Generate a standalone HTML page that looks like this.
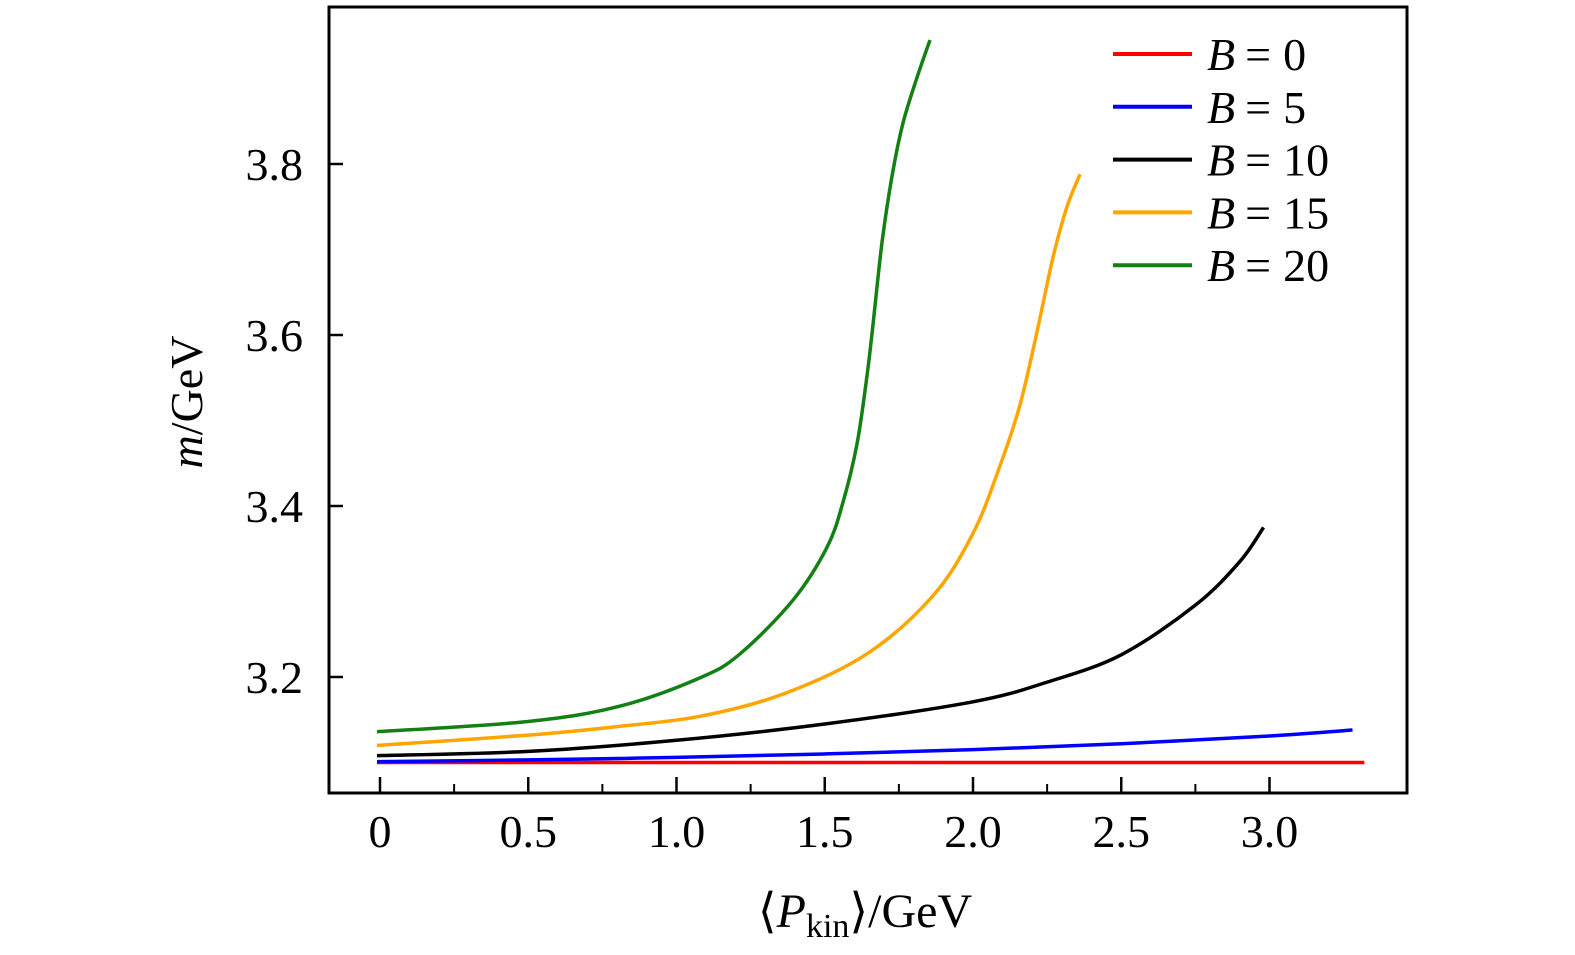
<!DOCTYPE html>
<html><head><meta charset="utf-8"><style>
body{margin:0;background:#fff}
svg{display:block}
text{font-family:"Liberation Serif",serif;fill:#000}
</style></head><body>
<svg id="chart" width="1575" height="955" xmlns="http://www.w3.org/2000/svg">
<g id="plot"></g>
</svg>
<script>
const xTicks=[0,0.5,1.0,1.5,2.0,2.5,3.0];
const xTickLabels=["0","0.5","1.0","1.5","2.0","2.5","3.0"];
const yTicks=[3.2,3.4,3.6,3.8];
const yTickLabels=["3.2","3.4","3.6","3.8"];
const seriesNames=["B = 0","B = 5","B = 10","B = 15","B = 20"];
const seriesColors=["#ff0000","#0000ff","#000000","#ffa500","#138013"];
const redX=[-0.01,1.0,2.0,3.32];
const redY=[3.1,3.1,3.1,3.1];
const blueX=[-0.01,0.5,1.0,1.5,2.0,2.5,3.0,3.28];
const blueY=[3.101,3.103,3.106,3.110,3.115,3.122,3.131,3.138];
const blackX=[-0.01,0.5,1.0,1.5,2.0,2.25,2.5,2.75,2.9,2.98];
const blackY=[3.108,3.113,3.126,3.145,3.171,3.194,3.226,3.284,3.335,3.375];
const orangeX=[-0.01,0.5,0.8,1.079,1.359,1.642,1.865,2.0,2.091,2.159,2.216,2.27,2.317,2.361];
const orangeY=[3.12,3.132,3.142,3.154,3.180,3.227,3.295,3.368,3.447,3.519,3.604,3.691,3.750,3.788];
const greenX=[-0.01,0.5,0.81,1.079,1.214,1.393,1.508,1.562,1.609,1.642,1.663,1.693,1.727,1.764,1.811,1.855];
const greenY=[3.136,3.148,3.166,3.199,3.227,3.290,3.352,3.405,3.473,3.551,3.613,3.708,3.786,3.848,3.901,3.945];

const svg=document.getElementById('chart');
const NS="http://www.w3.org/2000/svg";
const L=329,R=1407,T=7,B=793;
const xs=v=>380+v*296.5;
const ys=v=>677-(v-3.2)*855;
function mk(tag,attrs,parent){const e=document.createElementNS(NS,tag);for(const k in attrs)e.setAttribute(k,attrs[k]);(parent||svg).appendChild(e);return e;}

const frame=mk('rect',{x:L,y:T,width:R-L,height:B-T,fill:'none',stroke:'#000','stroke-width':3});



xTicks.forEach((v,i)=>{
  const t=mk('line',{x1:xs(v),x2:xs(v),y1:B,y2:B-16,stroke:'#000','stroke-width':2.5});
  
  
  const lb=mk('text',{x:xs(v),y:847,'font-size':46,'text-anchor':'middle'});
  lb.textContent=xTickLabels[i];
  
  
  if(i<xTicks.length-1){
    const m=mk('line',{x1:xs(v+0.25),x2:xs(v+0.25),y1:B,y2:B-9,stroke:'#000','stroke-width':2});
    
    
  }
});
yTicks.forEach((v,i)=>{
  const t=mk('line',{x1:L,x2:L+14,y1:ys(v),y2:ys(v),stroke:'#000','stroke-width':2.5});
  
  
  const lb=mk('text',{x:303,y:ys(v)+16,'font-size':46,'text-anchor':'end'});
  lb.textContent=yTickLabels[i];
  
  
});

function smooth(xa,ya){
  const p=xa.map((x,i)=>[xs(x),ys(ya[i])]);
  let d=`M${p[0][0]},${p[0][1]}`;
  for(let i=0;i<p.length-1;i++){
    const p0=p[i-1]||p[i],p1=p[i],p2=p[i+1],p3=p[i+2]||p2;
    const c1=[p1[0]+(p2[0]-p0[0])/6,p1[1]+(p2[1]-p0[1])/6];
    const c2=[p2[0]-(p3[0]-p1[0])/6,p2[1]-(p3[1]-p1[1])/6];
    d+=` C${c1[0]},${c1[1]} ${c2[0]},${c2[1]} ${p2[0]},${p2[1]}`;
  }
  return d;
}
const allX=[redX,blueX,blackX,orangeX,greenX],allY=[redY,blueY,blackY,orangeY,greenY];
const seriesKeys=['b0','b5','b10','b15','b20'];
allX.forEach((xa,i)=>{
  const p=mk('path',{d:smooth(xa,allY[i]),fill:'none',stroke:seriesColors[i],'stroke-width':3.5,'stroke-linejoin':'round'});
  
  
});

seriesNames.forEach((n,i)=>{
  const y=54+i*52.8;
  const ln=mk('line',{x1:1113,x2:1192,y1:y,y2:y,stroke:seriesColors[i],'stroke-width':4});
  
  
  const parts=n.split(' = ');
  const tx=mk('text',{x:1207,y:y+16,'font-size':46});
  tx.innerHTML=`<tspan font-style="italic">${parts[0]}</tspan><tspan dx="10">=</tspan><tspan dx="12">${parts[1]}</tspan>`;
  
  
});

const yl=mk('text',{x:0,y:0,'font-size':46,'text-anchor':'middle',transform:'translate(202,402) rotate(-90)'});
yl.innerHTML='<tspan font-style="italic">m</tspan>/GeV';


const xl=mk('text',{x:865,y:927,'font-size':48,'text-anchor':'middle'});
xl.innerHTML='⟨<tspan font-style="italic">P</tspan><tspan font-size="34" dy="10">kin</tspan><tspan dy="-10">⟩/GeV</tspan>';


</script>
</body></html>
